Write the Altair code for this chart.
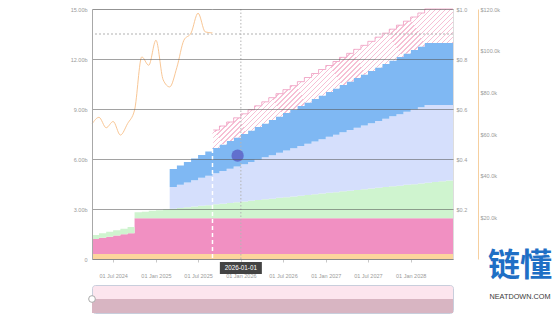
import altair as alt
import pandas as pd

# ---------------- data ----------------
dates = [
    "2024-04-01", "2024-05-01", "2024-06-01", "2024-07-01", "2024-08-01", "2024-09-01",
    "2024-10-01", "2024-11-01", "2024-12-01",
    "2025-01-01", "2025-02-01", "2025-03-01", "2025-04-01", "2025-05-01", "2025-06-01",
    "2025-07-01", "2025-08-01", "2025-09-01", "2025-10-01", "2025-11-01", "2025-12-01",
    "2026-01-01", "2026-02-01", "2026-03-01", "2026-04-01", "2026-05-01", "2026-06-01",
    "2026-07-01", "2026-08-01", "2026-09-01", "2026-10-01", "2026-11-01", "2026-12-01",
    "2027-01-01", "2027-02-01", "2027-03-01", "2027-04-01", "2027-05-01", "2027-06-01",
    "2027-07-01", "2027-08-01", "2027-09-01", "2027-10-01", "2027-11-01", "2027-12-01",
    "2028-01-01", "2028-02-01", "2028-03-01", "2028-04-01", "2028-05-01", "2028-06-01",
    "2028-07-01",
]

# cumulative tops of each stacked band, in billions of tokens
liquidity_top = [0.30] * 52
foundation_top = [1.20, 1.27, 1.34, 1.41, 1.48, 1.55] + [2.45] * 46
community_top = [
    1.44, 1.54, 1.63, 1.73, 1.82, 1.92,
    2.80, 2.84, 2.89, 2.93, 2.97, 3.02, 3.06, 3.10, 3.15, 3.19, 3.23, 3.28,
    3.32, 3.36, 3.41, 3.45, 3.49, 3.54, 3.58, 3.62, 3.67, 3.71, 3.75, 3.80,
    3.84, 3.88, 3.93, 3.97, 4.01, 4.06, 4.10, 4.14, 4.19, 4.23, 4.27, 4.32,
    4.36, 4.40, 4.45, 4.49, 4.53, 4.58, 4.62, 4.66, 4.71, 4.75,
]
investors_top = [None] * 11 + [
    4.32, 4.46, 4.59, 4.73, 4.87, 5.00, 5.14, 5.28, 5.41, 5.55, 5.69, 5.82,
    5.96, 6.10, 6.23, 6.37, 6.51, 6.64, 6.78, 6.92, 7.05, 7.19, 7.33, 7.46,
    7.60, 7.74, 7.87, 8.01, 8.15, 8.28, 8.42, 8.56, 8.69, 8.83, 8.97, 9.10, 9.24,
] + [9.24] * 4
team_top = [None] * 11 + [
    5.40, 5.61, 5.82, 6.03, 6.24, 6.45, 6.66, 6.87, 7.08, 7.29, 7.50, 7.71,
    7.92, 8.13, 8.34, 8.55, 8.76, 8.97, 9.18, 9.39, 9.60, 9.81, 10.02, 10.23,
    10.44, 10.65, 10.86, 11.07, 11.28, 11.49, 11.70, 11.91, 12.12, 12.33, 12.54, 12.75, 12.96,
] + [12.96] * 4
projected_top = [None] * 17 + [
    7.74, 7.98, 8.22, 8.47, 8.71, 8.95, 9.19, 9.43, 9.68, 9.92, 10.16, 10.40,
    10.64, 10.89, 11.13, 11.37, 11.61, 11.85, 12.10, 12.34, 12.58, 12.82, 13.06, 13.31,
    13.55, 13.79, 14.03, 14.27, 14.52, 14.76, 15.00,
] + [15.00] * 4

series_names = ["Liquidity", "Foundation", "Community", "Investors", "Team", "Projected"]
series_tops = [liquidity_top, foundation_top, community_top, investors_top, team_top, projected_top]
series_colors = ["#FCD59C", "#F190C2", "#CFF4CF", "#D5DFFC", "#7FB8F3", None]

# BTC-like price line (USD), monthly
price_dates = dates[:18]
price_values = [64800, 68000, 63000, 66000, 59500, 65000, 71500, 97000, 93000,
                105000, 86000, 82600, 92000, 105000, 108500, 118000, 109000, 108500]

x_tick_dates = ["2024-07-01", "2025-01-01", "2025-07-01", "2026-01-01",
                "2026-07-01", "2027-01-01", "2027-07-01", "2028-01-01"]
supply_ticks = [0, 3, 6, 9, 12, 15]
unit_price_ticks = [0.2, 0.4, 0.6, 0.8, 1.0]
usd_ticks = [20000, 40000, 60000, 80000, 100000, 120000]
reference_levels = [13.5]
today_date = ["2025-09-01"]
hover_date = "2026-01-01"
hover_series = ["Team", "Foundation", "Liquidity"]
cursor_dates = ["2025-12-18"]
cursor_values = [6.2]

# ---------------- table ----------------
rows = []
lower = [0.0] * len(dates)
for name, tops in zip(series_names, series_tops):
    new_lower = []
    for i, d in enumerate(dates):
        defined = tops[i] is not None
        top = tops[i] if defined else lower[i]
        rows.append({"date": d, "series": name, "lower": lower[i], "top": top, "defined": defined})
        new_lower.append(top)
    lower = new_lower
table = pd.DataFrame(rows)
price_df = pd.DataFrame({"date": price_dates, "price": price_values})


def dt(s):
    return alt.DateTime(year=int(s[:4]), month=int(s[5:7]), date=int(s[8:10]), utc=True)


FONT = "Liberation Sans"
LABEL = "#9a9a9a"

x_scale = alt.Scale(type="utc", domain=[dt(dates[0]), dt(dates[-1])])
x_axis = alt.Axis(values=[dt(s) for s in x_tick_dates], format="%d %b %Y", title=None,
                  labelFontSize=5.5, labelColor=LABEL, tickSize=3, tickColor="#c8c8c8",
                  domainColor="#c8c8c8", labelPadding=11, grid=False, labelFlush=False)
y_scale = alt.Scale(domain=[0, 15], nice=False, zero=True)
y_axis = alt.Axis(orient="left", values=supply_ticks,
                  labelExpr="datum.value == 0 ? '0' : format(datum.value, '.2f') + 'b'",
                  grid=True, gridColor="#555555", gridOpacity=0.55, gridWidth=1,
                  ticks=False, domain=True, domainColor="#a8a8a8",
                  labelFontSize=5.5, labelColor=LABEL, labelPadding=5, zindex=1, title=None)


def X(field="date"):
    return alt.X(f"{field}:T", scale=x_scale, axis=x_axis)


def Y(field):
    return alt.Y(f"{field}:Q", scale=y_scale, axis=y_axis)


base = alt.Chart(table)
layers = []
for name, color in zip(series_names, series_colors):
    if color is None:
        stops = []
        n = 64
        for i in range(n):
            a = i / n
            b = (i + 0.28) / n
            c = (i + 1) / n
            stops += [alt.GradientStop(offset=a, color="#F6C0D5"),
                      alt.GradientStop(offset=b, color="#F6C0D5"),
                      alt.GradientStop(offset=b, color="#FFFFFF"),
                      alt.GradientStop(offset=c, color="#FFFFFF")]
        fill = alt.LinearGradient(gradient="linear", stops=stops, x1=0, y1=0, x2=1, y2=0.59)
        src = base.transform_filter((alt.datum.series == name) & alt.datum.defined)
    else:
        fill = color
        src = base.transform_filter(alt.datum.series == name)
    layers.append(
        src.mark_area(interpolate="step-after", color=fill)
        .encode(x=X(), y=Y("top"), y2="lower:Q")
    )

# top edge of projected band
layers.append(
    base.transform_filter((alt.datum.series == "Projected") & alt.datum.defined)
    .mark_line(interpolate="step-after", color="#EF9BBF", strokeWidth=0.8)
    .encode(x=X(), y=Y("top"))
)

# reference & vertical lines
layers.append(
    alt.Chart(pd.DataFrame({"level": reference_levels}))
    .mark_rule(color="#a8a8a8", strokeDash=[2, 2], strokeWidth=0.9)
    .encode(y=Y("level"))
)
layers.append(
    alt.Chart(pd.DataFrame({"date": today_date}))
    .mark_rule(color="#ffffff", strokeDash=[4, 3], strokeWidth=1.5)
    .encode(x=X())
)
layers.append(
    alt.Chart(pd.DataFrame({"date": [hover_date]}))
    .mark_rule(color="#b5b5b5", strokeDash=[1.5, 2], strokeWidth=1)
    .encode(x=X())
)

# hover markers
hover = base.transform_filter(alt.datum.date == hover_date)
marker_styles = {"Team": ("#FFFFFF", "#3F8BDD"), "Foundation": ("#FFFFFF", "#D4508F"),
                 "Liquidity": ("#F7B35C", "#F7B35C")}
for name in hover_series:
    f, s = marker_styles[name]
    layers.append(
        hover.transform_filter(alt.datum.series == name)
        .mark_point(shape="circle", filled=True, fill=f, stroke=s, strokeWidth=1.2, size=22, opacity=1)
        .encode(x=X(), y=Y("top"))
    )

# cursor blob
layers.append(
    alt.Chart(pd.DataFrame({"date": cursor_dates, "value": cursor_values}))
    .mark_circle(size=150, color="#5A5EC4", opacity=0.8)
    .encode(x=X(), y=Y("value"))
)

# tooltip label under the axis
tip = alt.Chart(pd.DataFrame({"date": [hover_date], "label": [hover_date]}))
layers.append(
    tip.mark_point(shape="M-1,-0.29L1,-0.29L1,0.29L-1,0.29Z", size=42 * 42, filled=True,
                   color="#333333", opacity=0.92)
    .encode(x=X(), y=alt.value(259))
)
layers.append(
    tip.mark_text(color="#ffffff", fontSize=6.3, align="center", baseline="middle", font=FONT)
    .encode(x=X(), y=alt.value(259), text="label:N")
)

# watermark texts
layers.append(
    alt.Chart(pd.DataFrame({"t": ["链懂"]}))
    .mark_text(font="Noto Sans CJK SC", fontSize=32, fontWeight="bold", color="#1F6FC5",
               align="center", baseline="middle")
    .encode(x=alt.value(428), y=alt.value(257), text="t:N")
)
layers.append(
    alt.Chart(pd.DataFrame({"t": ["NEATDOWN.COM"]}))
    .mark_text(font=FONT, fontSize=7.3, color="#3a3a3a", align="center", baseline="middle")
    .encode(x=alt.value(428), y=alt.value(288), text="t:N")
)

main = alt.layer(*layers)

unit_axis_layer = (
    alt.Chart(pd.DataFrame({"p": unit_price_ticks}))
    .mark_point(opacity=0)
    .encode(y=alt.Y("p:Q", scale=alt.Scale(domain=[0, 1], nice=False),
                    axis=alt.Axis(orient="right", values=unit_price_ticks, format="$.1f",
                                  grid=False, ticks=False, domain=False, labelFontSize=5.5,
                                  labelColor=LABEL, labelPadding=3, title=None)))
)

price_layer = (
    alt.Chart(price_df)
    .mark_line(interpolate="monotone", color="#F7C089", strokeWidth=0.9)
    .encode(
        x=X(),
        y=alt.Y("price:Q", scale=alt.Scale(domain=[0, 120000], nice=False),
                axis=alt.Axis(orient="right", offset=25, values=usd_ticks,
                              labelExpr="'$' + format(datum.value / 1000, '.1f') + 'k'",
                              ticks=False, domain=True, domainColor="#F6CF9F",
                              labelFontSize=5.5, labelColor=LABEL, labelPadding=2,
                              title=None, grid=False)),
    )
)

top = (
    alt.layer(main, unit_axis_layer, price_layer)
    .resolve_scale(y="independent")
    .properties(width=361, height=250)
)

nav_df = pd.DataFrame({"start": [dates[0]], "end": [dates[-1]]})
nav_x = alt.X("start:T", scale=x_scale, axis=None)
nav_rect = alt.Chart(nav_df).mark_rect(color="#D8B5C2").encode(
    x=nav_x, x2="end:T", y=alt.value(14), y2=alt.value(28))
nav_handle = alt.Chart(nav_df).mark_point(
    shape="circle", filled=True, fill="#ffffff", stroke="#aaaaaa", strokeWidth=1, size=45, opacity=1
).encode(x=nav_x, y=alt.value(14))
nav = alt.layer(nav_rect, nav_handle).properties(
    width=361, height=28,
    view=alt.ViewBackground(fill="#FCE5EE", stroke="#C8CEDC", strokeWidth=1, cornerRadius=3),
)

chart = (
    alt.vconcat(top, nav, spacing=26, bounds="flush")
    .properties(padding={"left": 69, "top": 5, "right": 0, "bottom": 0})
    .configure_view(strokeWidth=0)
    .configure(font=FONT)
)

chart.save("out.html", embed_options={"renderer": "svg", "actions": False})
